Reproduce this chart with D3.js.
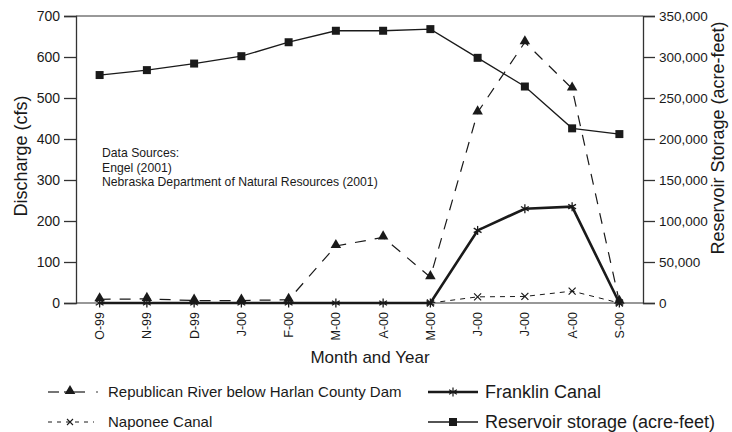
<!DOCTYPE html>
<html>
<head>
<meta charset="utf-8">
<script src="https://cdn.jsdelivr.net/npm/d3@7"></script>
<style>
  body { margin: 0; background: #fff; }
  svg { display: block; font-family: "Liberation Sans", Arial, sans-serif; }
</style>
</head>
<body>
<svg id="chart" width="732" height="432"></svg>
<script>
const months = ["O-99","N-99","D-99","J-00","F-00","M-00","A-00","M-00","J-00","J-00","A-00","S-00"];
const republican = [9, 10, 6, 6, 8, 139, 160, 63, 465, 636, 523, 3];
const franklin = [0, 0, 0, 0, 0, 0, 0, 0, 177, 230, 235, 0];
const naponee = [0, 0, 0, 0, 0, 0, 0, 0, 15, 16, 29, 0];
const storage = [278000, 284000, 292000, 301000, 318000, 332000, 332000, 334000, 299000, 264000, 213000, 206000];
const leftTicks = [0, 100, 200, 300, 400, 500, 600, 700];
const rightTicks = [0, 50000, 100000, 150000, 200000, 250000, 300000, 350000];
const sources = ["Data Sources:", "Engel (2001)", "Nebraska Department of Natural Resources (2001)"];

const svg = d3.select("#chart");
const L = 76, R = 643, T = 16, B = 303;
const ink = "#1a1a1a";

const x = d3.scalePoint().domain(d3.range(months.length)).range([L, R]).padding(0.5);
const yL = d3.scaleLinear().domain([0, 700]).range([B, T]);
const yR = d3.scaleLinear().domain([0, 350000]).range([B, T]);

// frame
svg.append("line").attr("x1", L).attr("x2", R).attr("y1", T).attr("y2", T).attr("stroke", "#333").attr("stroke-width", 1);
svg.append("line").attr("x1", L).attr("x2", R).attr("y1", B).attr("y2", B).attr("stroke", "#333").attr("stroke-width", 1.2);

// left axis
const gL = svg.append("g").attr("transform", `translate(${L},0)`)
  .call(d3.axisLeft(yL).tickValues(leftTicks).tickSize(12).tickPadding(4).tickFormat(d3.format("d")));
gL.selectAll("path,line").attr("stroke", "#333").attr("stroke-width", 1.3);
gL.selectAll("text").attr("font-size", 14).attr("fill", ink).attr("font-family", "Liberation Sans, Arial, sans-serif");

// right axis
const gR = svg.append("g").attr("transform", `translate(${R},0)`)
  .call(d3.axisRight(yR).tickValues(rightTicks).tickSize(12).tickPadding(4).tickFormat(d3.format(",")));
gR.selectAll("path,line").attr("stroke", "#333").attr("stroke-width", 1.3);
gR.selectAll("text").attr("font-size", 13.5).attr("fill", ink).attr("font-family", "Liberation Sans, Arial, sans-serif");

// x tick labels
svg.append("g").selectAll("text").data(months).join("text")
  .attr("transform", (d, i) => `translate(${x(i)},${B + 9}) rotate(-90)`)
  .attr("text-anchor", "end").attr("dy", "0.35em")
  .attr("font-size", 12.5).attr("fill", ink).text(d => d);

// axis titles
svg.append("text").attr("transform", `translate(27,156) rotate(-90)`)
  .attr("text-anchor", "middle").attr("font-size", 18).attr("fill", ink).text("Discharge (cfs)");
svg.append("text").attr("transform", `translate(724,138) rotate(-90)`)
  .attr("text-anchor", "middle").attr("font-size", 18).attr("fill", ink).text("Reservoir Storage (acre-feet)");
svg.append("text").attr("x", 370).attr("y", 363)
  .attr("text-anchor", "middle").attr("font-size", 17).attr("fill", ink).text("Month and Year");

// data sources
svg.append("g").selectAll("text").data(sources).join("text")
  .attr("x", 102).attr("y", (d, i) => 157 + i * 14.5)
  .attr("font-size", 12.2).attr("fill", ink).text(d => d);

// markers
const tri = d3.symbol().type(d3.symbolTriangle).size(48);
const sq = d3.symbol().type(d3.symbolSquare).size(64);
function star(g, cx, cy, r, w) {
  for (let k = 0; k < 3; k++) {
    const a = Math.PI / 2 + k * Math.PI / 3;
    g.append("line").attr("x1", cx - r * Math.cos(a)).attr("y1", cy - r * Math.sin(a))
      .attr("x2", cx + r * Math.cos(a)).attr("y2", cy + r * Math.sin(a))
      .attr("stroke", ink).attr("stroke-width", w);
  }
}
function cross(g, cx, cy, r, w) {
  g.append("path").attr("d", `M${cx - r},${cy - r}L${cx + r},${cy + r}M${cx - r},${cy + r}L${cx + r},${cy - r}`)
    .attr("stroke", ink).attr("stroke-width", w).attr("fill", "none");
}

// reservoir
const lineR = d3.line().x((d, i) => x(i)).y(d => yR(d));
svg.append("path").attr("d", lineR(storage)).attr("fill", "none").attr("stroke", ink).attr("stroke-width", 1.3);
svg.append("g").selectAll("path").data(storage).join("path")
  .attr("d", sq).attr("transform", (d, i) => `translate(${x(i)},${yR(d)})`).attr("fill", ink);

const lineL = d3.line().x((d, i) => x(i)).y(d => yL(d));
// republican
svg.append("path").attr("d", lineL(republican)).attr("fill", "none").attr("stroke", ink)
  .attr("stroke-width", 1.2).attr("stroke-dasharray", "11,9");
svg.append("g").selectAll("path").data(republican).join("path")
  .attr("d", tri).attr("transform", (d, i) => `translate(${x(i)},${yL(d) - 1})`).attr("fill", ink);

// naponee (visible from M-00 onward)
const lineN = d3.line().defined((d, i) => i >= 7).x((d, i) => x(i)).y(d => yL(d));
svg.append("path").attr("d", lineN(naponee))
  .attr("fill", "none").attr("stroke", ink).attr("stroke-width", 1).attr("stroke-dasharray", "5,5");
const gN = svg.append("g");
naponee.forEach((d, i) => { if (i >= 7) cross(gN, x(i), yL(d), 3.5, 1.2); });

// franklin
svg.append("path").attr("d", lineL(franklin)).attr("fill", "none").attr("stroke", ink).attr("stroke-width", 2.6);
const gF = svg.append("g");
franklin.forEach((d, i) => star(gF, x(i), yL(d), 4.5, 1.3));

// legend
const lg = svg.append("g");
const r1 = 392, r2 = 422;
lg.append("line").attr("x1", 48).attr("x2", 59).attr("y1", r1).attr("y2", r1).attr("stroke", ink).attr("stroke-width", 1.2);
lg.append("line").attr("x1", 64).attr("x2", 85).attr("y1", r1).attr("y2", r1).attr("stroke", ink).attr("stroke-width", 1.2);
lg.append("path").attr("d", tri).attr("transform", `translate(70,${r1 - 1})`).attr("fill", ink);
lg.append("circle").attr("cx", 97).attr("cy", r1).attr("r", 0.8).attr("fill", ink);
lg.append("text").attr("x", 108).attr("y", r1 + 5).attr("font-size", 15).attr("fill", ink).text("Republican River below Harlan County Dam");

lg.append("line").attr("x1", 48).attr("x2", 94).attr("y1", r2).attr("y2", r2).attr("stroke", ink).attr("stroke-width", 1).attr("stroke-dasharray", "4,5");
cross(lg, 70, r2, 3, 1.1);
lg.append("text").attr("x", 108).attr("y", r2 + 5).attr("font-size", 15).attr("fill", ink).text("Naponee Canal");

lg.append("line").attr("x1", 428).attr("x2", 478).attr("y1", r1).attr("y2", r1).attr("stroke", ink).attr("stroke-width", 2.6);
star(lg, 453, r1, 4.5, 1.2);
lg.append("text").attr("x", 485).attr("y", r1 + 6).attr("font-size", 18).attr("fill", ink).text("Franklin Canal");

lg.append("line").attr("x1", 428).attr("x2", 478).attr("y1", r2).attr("y2", r2).attr("stroke", ink).attr("stroke-width", 1.3);
lg.append("path").attr("d", sq).attr("transform", `translate(453,${r2})`).attr("fill", ink);
lg.append("text").attr("x", 485).attr("y", r2 + 6).attr("font-size", 18).attr("fill", ink).text("Reservoir storage (acre-feet)");
</script>
</body>
</html>
